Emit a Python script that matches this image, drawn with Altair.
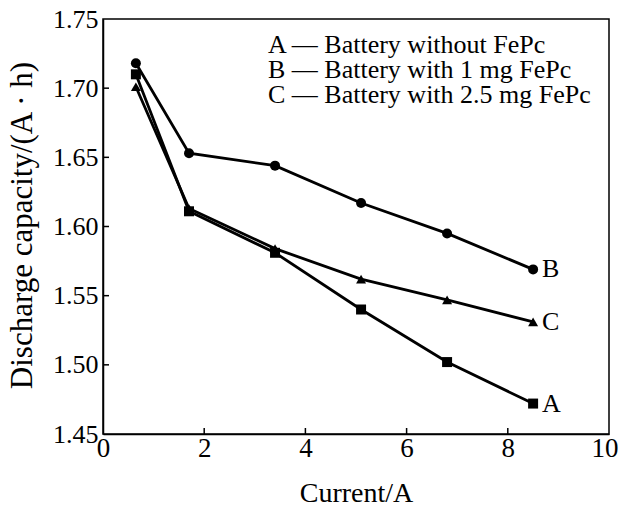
import altair as alt
import pandas as pd

# ---- data ----
current = [0.65, 1.7, 3.4, 5.1, 6.8, 8.5]
cap_A = [1.710, 1.611, 1.581, 1.540, 1.502, 1.472]
cap_B = [1.718, 1.653, 1.644, 1.617, 1.595, 1.569]
cap_C = [1.701, 1.613, 1.584, 1.562, 1.547, 1.531]
series = ["A", "B", "C"]
legend_texts = [
    "A \u2014 Battery without FePc",
    "B \u2014 Battery with 1 mg FePc",
    "C \u2014 Battery with 2.5 mg FePc",
]
x_ticks = [0, 2, 4, 6, 8, 10]
y_ticks = [1.45, 1.50, 1.55, 1.60, 1.65, 1.70, 1.75]
x_inner_ticks = [2, 4, 6, 8]
y_inner_ticks = [1.50, 1.55, 1.60, 1.65, 1.70]

FONT = "Liberation Serif"

rows = []
for s, vals in zip(series, [cap_A, cap_B, cap_C]):
    for i, (x, y) in enumerate(zip(current, vals)):
        rows.append({"series": s, "current": x, "cap": y, "idx": i})
df = pd.DataFrame(rows)
last = df[df["idx"] == len(current) - 1]

xs = alt.Scale(domain=[0, 10], nice=False, zero=False)
ys = alt.Scale(domain=[1.45, 1.75], nice=False, zero=False)

X = alt.X(
    "current:Q",
    scale=xs,
    axis=alt.Axis(
        values=x_ticks,
        title="Current/A",
        ticks=False,
        labelFont=FONT,
        titleFont=FONT,
        labelFontSize=27,
        labelPadding=1,
        labelAlign={"condition": {"test": "datum.value == 10", "value": "right"}, "value": "center"},
        labelOffset={"condition": {"test": "datum.value == 10", "value": 9}, "value": 0},
        titleFontSize=28,
        titleY=67,
        titleBaseline="alphabetic",
        labelFlush=False,
    ),
)
Y = alt.Y(
    "cap:Q",
    scale=ys,
    axis=alt.Axis(
        values=y_ticks,
        format=".2f",
        title="Discharge capacity/(A \u00b7 h)",
        ticks=False,
        labelFont=FONT,
        titleFont=FONT,
        labelFontSize=26,
        labelPadding=5,
        titleFontSize=31,
        titleX=-72,
        titleY=206,
        titleAngle=270,
        titleAlign="center",
        titleBaseline="alphabetic",
        labelFlush=False,
    ),
)

base = alt.Chart(df)

lines = base.mark_line(color="black", strokeWidth=2.8).encode(
    x=X, y=Y, detail="series:N", order="idx:Q"
)

points = base.mark_point(filled=True, color="black", opacity=1).encode(
    x="current:Q",
    y="cap:Q",
    shape=alt.Shape(
        "series:N",
        scale=alt.Scale(domain=series, range=["square", "circle", "triangle-up"]),
        legend=None,
    ),
    size=alt.Size(
        "series:N",
        scale=alt.Scale(domain=series, range=[100, 100, 85]),
        legend=None,
    ),
)

end_labels = alt.Chart(last).mark_text(
    align="left", baseline="middle", dx=9, font=FONT, fontSize=26, color="black"
).encode(x="current:Q", y="cap:Q", text="series:N")

tick_x = alt.Chart(pd.DataFrame({"t": x_inner_ticks})).mark_rule(
    color="black", strokeWidth=1.5
).encode(x=alt.X("t:Q", scale=xs), y=alt.value(415), y2=alt.value(409))

tick_y = alt.Chart(pd.DataFrame({"t": y_inner_ticks})).mark_rule(
    color="black", strokeWidth=1.5
).encode(y=alt.Y("t:Q", scale=ys), x=alt.value(0), x2=alt.value(6))

legend_layers = []
for i, txt in enumerate(legend_texts):
    legend_layers.append(
        alt.Chart(pd.DataFrame({"t": [txt]})).mark_text(
            align="left", baseline="alphabetic", font=FONT, fontSize=26, color="black"
        ).encode(x=alt.value(165), y=alt.value(34 + 25 * i), text="t:N")
    )

chart = alt.layer(lines, points, end_labels, tick_x, tick_y, *legend_layers).properties(
    width=506,
    height=415,
    padding={"left": 103, "top": 19, "right": 10, "bottom": 73},
    autosize=alt.AutoSizeParams(type="none"),
    background="white",
).configure_view(
    stroke="black", strokeWidth=1.5
).configure_axis(
    grid=False,
    domainColor="black",
    domainWidth=1.5,
    labelColor="black",
    titleColor="black",
    labelFont=FONT,
    titleFont=FONT,
    titleFontWeight="normal",
)

chart.save("out.html", embed_options={"renderer": "svg", "actions": False})
